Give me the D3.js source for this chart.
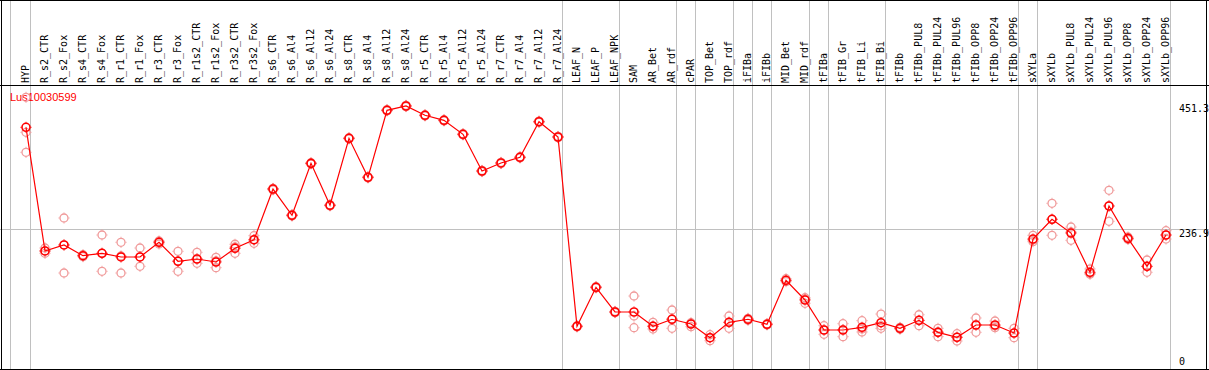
<!DOCTYPE html>
<html>
<head>
<meta charset="utf-8">
<script src="https://cdn.jsdelivr.net/npm/d3@7.9.0/dist/d3.min.js"></script>
<style>
  body { margin: 0; background: #fff; }
  svg { display: block; }
  .lab { font-family: "DejaVu Sans Mono", monospace; font-size: 10px; fill: #000; }
</style>
</head>
<body>
<div id="chart"></div>
<script>
const gene = 'Lus10030599';

const labels = ['HYP', 'R_s2_CTR', 'R_s2_Fox', 'R_s4_CTR', 'R_s4_Fox', 'R_r1_CTR', 'R_r1_Fox',
  'R_r3_CTR', 'R_r3_Fox', 'R_r1s2_CTR', 'R_r1s2_Fox', 'R_r3s2_CTR', 'R_r3s2_Fox',
  'R_s6_CTR', 'R_s6_Al4', 'R_s6_Al12', 'R_s6_Al24', 'R_s8_CTR', 'R_s8_Al4', 'R_s8_Al12',
  'R_s8_Al24', 'R_r5_CTR', 'R_r5_Al4', 'R_r5_Al12', 'R_r5_Al24', 'R_r7_CTR', 'R_r7_Al4',
  'R_r7_Al12', 'R_r7_Al24', 'LEAF_N', 'LEAF_P', 'LEAF_NPK', 'SAM', 'AR_Bet', 'AR_rdf',
  'cPAR', 'TOP_Bet', 'TOP_rdf', 'iFIBa', 'iFIBb', 'MID_Bet', 'MID_rdf', 'tFIBa', 'tFIB_Gr',
  'tFIB_Li', 'tFIB_Bi', 'tFIBb', 'tFIBb_PUL8', 'tFIBb_PUL24', 'tFIBb_PUL96', 'tFIBb_OPP8',
  'tFIBb_OPP24', 'tFIBb_OPP96', 'sXYLa', 'sXYLb', 'sXYLb_PUL8', 'sXYLb_PUL24',
  'sXYLb_PUL96', 'sXYLb_OPP8', 'sXYLb_OPP24', 'sXYLb_OPP96'];

// mean expression per sample
const means = [411.3, 199.1, 209.4, 191.0, 195.1, 188.8, 188.8, 214.0, 181.4, 185.3, 180.2,
  203.7, 218.4, 305.4, 260.3, 349.5, 277.5, 392.4, 325.5, 440.5, 447.9, 431.9, 423.3, 399.3,
  336.3, 350.1, 359.8, 420.9, 394.7, 69.8, 136.8, 94.4, 94.4, 69.8, 81.9, 73.8, 50.3, 76.7,
  81.9, 73.3, 148.8, 115.0, 63.5, 63.5, 68.1, 76.0, 66.4, 80.1, 59.5, 51.0, 72.1, 72.1, 58.3,
  219.6, 253.5, 229.9, 162.5, 276.3, 220.8, 172.8, 226.5];

// replicates per sample
const reps = [
  [462.8, 368.4, 402.7], [204.2, 195.1, 199.1], [255.7, 161.3, 209.4], [192.7, 189.3, 191.0],
  [226.5, 164.2, 195.1], [214.0, 161.3, 190.5], [204.2, 172.8, 188.8], [215.0, 211.1, 216.2],
  [198.5, 164.2, 181.9], [196.8, 177.9, 185.3], [188.2, 170.4, 181.9], [210.6, 195.1, 205.9],
  [225.3, 212.3, 217.9], [306.5, 304.0, 305.6], [261.5, 259.0, 260.3], [350.5, 348.4, 349.5],
  [278.6, 276.4, 277.5], [393.5, 391.3, 392.4], [326.6, 324.4, 325.5], [441.6, 439.4, 440.5],
  [449.0, 446.8, 447.9], [433.0, 430.8, 431.9], [424.4, 422.2, 423.3], [400.4, 398.2, 399.3],
  [337.4, 335.2, 336.3], [351.2, 349.0, 350.1], [360.9, 358.7, 359.8], [422.0, 419.8, 420.9],
  [395.8, 393.6, 394.7], [70.9, 68.7, 69.8], [137.9, 135.7, 136.8], [95.5, 93.3, 94.4],
  [121.8, 67.4, 87.5], [76.7, 65.2, 70.4], [97.8, 66.4, 82.4], [76.0, 69.2, 73.8],
  [55.4, 45.1, 50.3], [87.5, 66.4, 76.7], [83.6, 80.1, 81.9], [74.4, 72.2, 73.3],
  [151.5, 146.4, 148.8], [118.9, 109.3, 116.7], [70.9, 56.1, 63.5], [74.3, 52.0, 64.0],
  [79.5, 60.1, 65.2], [90.9, 66.4, 70.9], [68.0, 64.8, 66.4], [89.7, 70.9, 79.8],
  [66.4, 52.0, 60.1], [57.1, 44.6, 51.0], [84.1, 59.5, 72.1], [78.9, 67.4, 70.4],
  [66.4, 50.3, 58.3], [226.0, 215.0, 217.9], [280.9, 226.0, 253.5], [240.2, 217.4, 231.7],
  [168.2, 159.1, 160.4], [303.2, 250.0, 276.3], [223.1, 218.8, 220.8], [183.6, 162.5, 172.5],
  [233.9, 219.6, 226.5]];

// last sample of each tissue group (separator drawn after it)
const groupEnds = ['HYP', 'R_r7_Al24', 'LEAF_NPK', 'AR_rdf', 'cPAR', 'TOP_rdf', 'iFIBa',
  'iFIBb', 'MID_rdf', 'tFIBa', 'tFIB_Bi', 'tFIBb_OPP96', 'sXYLa', 'sXYLb_OPP96'];

const ticks = [451.3, 236.9, 0];
const midTick = 236.9;

const width = 1209;
const height = 370;
const headerY = 85.5;
const bottomY = 369.5;

const svg = d3.select('#chart').append('svg')
  .attr('width', width)
  .attr('height', height);

const x = d3.scaleBand().domain(labels).range([11, 11 + labels.length * 19]).padding(0);
const px = (d) => x(d) + 15;
const y = d3.scaleLinear().domain([0, 451.3]).range([367, 104]);

// vertical group separators
const grid = svg.append('g').attr('stroke', '#c0c0c0').attr('stroke-width', 1);
grid.append('line')
  .attr('x1', x(labels[0]) - 0.5).attr('x2', x(labels[0]) - 0.5)
  .attr('y1', 0).attr('y2', height);
grid.selectAll('line.sep')
  .data(groupEnds)
  .join('line')
  .attr('class', 'sep')
  .attr('x1', (d) => x(d) + x.step() + 0.5)
  .attr('x2', (d) => x(d) + x.step() + 0.5)
  .attr('y1', 0).attr('y2', height);

// horizontal reference line
grid.append('line')
  .attr('x1', 0).attr('x2', width)
  .attr('y1', Math.round(y(midTick)) + 0.5)
  .attr('y2', Math.round(y(midTick)) + 0.5);

// frame
const frame = svg.append('g').attr('stroke', '#000').attr('stroke-width', 1).attr('fill', 'none');
frame.append('line').attr('x1', 0).attr('x2', width).attr('y1', 0.5).attr('y2', 0.5);
frame.append('line').attr('x1', 0).attr('x2', width).attr('y1', headerY).attr('y2', headerY);
frame.append('line').attr('x1', 0).attr('x2', width).attr('y1', bottomY).attr('y2', bottomY);
frame.append('line').attr('x1', 1.5).attr('x2', 1.5).attr('y1', 0).attr('y2', height);
frame.append('line').attr('x1', 1206.5).attr('x2', 1206.5).attr('y1', 0).attr('y2', height);

// column labels
svg.append('g')
  .selectAll('text')
  .data(labels)
  .join('text')
  .attr('class', 'lab')
  .attr('transform', (d) => `translate(${x(d) + 18}, 83) rotate(-90)`)
  .text((d) => d);

// right axis values
svg.append('g')
  .selectAll('text')
  .data(ticks)
  .join('text')
  .attr('class', 'lab')
  .attr('x', 1179)
  .attr('y', (d) => Math.min(y(d), 357) + 8)
  .text((d) => d);

// gene name
svg.append('text')
  .attr('x', 10)
  .attr('y', 101)
  .attr('fill', 'red')
  .style('font-family', '"Liberation Sans", Arial, sans-serif')
  .style('font-size', '11px')
  .text(gene);

function marker(g, color, sw) {
  g.append('circle').attr('r', 4).attr('fill', 'none').attr('stroke', color).attr('stroke-width', sw);
  g.append('path')
    .attr('d', 'M0,-4.5V-5.5M0,4.5V5.5M-4.5,0H-5.5M4.5,0H5.5')
    .attr('stroke', color).attr('stroke-width', 1);
}

// replicates
const repData = labels.flatMap((l, i) => reps[i].map((v) => ({ l, v })));
svg.append('g')
  .selectAll('g')
  .data(repData)
  .join('g')
  .attr('transform', (d) => `translate(${px(d.l)}, ${y(d.v)})`)
  .each(function () { marker(d3.select(this), '#f09a9a', 1.3); });

// mean line
const line = d3.line().x((d, i) => px(labels[i])).y((d) => y(d));
svg.append('path')
  .datum(means)
  .attr('d', line)
  .attr('fill', 'none')
  .attr('stroke', 'red')
  .attr('stroke-width', 1.2);

svg.append('g')
  .selectAll('g')
  .data(means)
  .join('g')
  .attr('transform', (d, i) => `translate(${px(labels[i])}, ${y(d)})`)
  .each(function () { marker(d3.select(this), 'red', 1.6); });
</script>
</body>
</html>
